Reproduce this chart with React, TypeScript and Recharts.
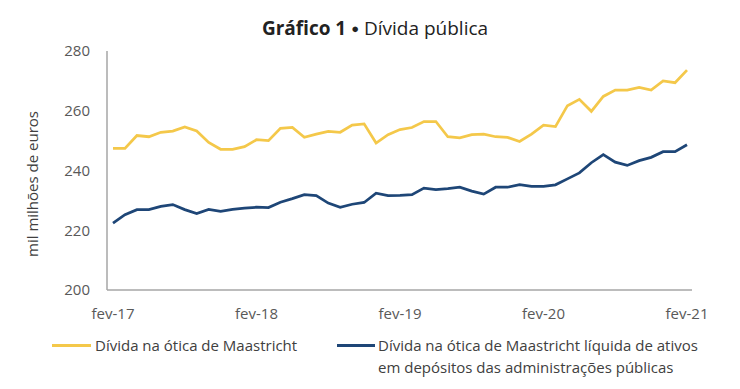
import { LineChart, Line, XAxis, YAxis } from 'recharts';

const monthNames = ['jan', 'fev', 'mar', 'abr', 'mai', 'jun', 'jul', 'ago', 'set', 'out', 'nov', 'dez'];

// fev-17 .. fev-21, monthly
const categories: string[] = [];
for (let y = 17; y <= 21; y++) {
  for (let m = 0; m < 12; m++) {
    if ((y === 17 && m < 1) || (y === 21 && m > 1)) continue;
    categories.push(`${monthNames[m]}-${y}`);
  }
}

const xTicks = ['fev-17', 'fev-18', 'fev-19', 'fev-20', 'fev-21'];
const yTicks = [200, 220, 240, 260, 280];

// mil milhões de euros
const maastricht = [
  247.4, 247.4, 251.7, 251.3, 252.8, 253.2, 254.6, 253.2, 249.4, 247.1, 247.1, 248.0,
  250.3, 250.0, 254.1, 254.4, 251.1, 252.2, 253.1, 252.8, 255.2, 255.6, 249.2, 252.0,
  253.7, 254.4, 256.4, 256.4, 251.3, 250.9, 252.0, 252.2, 251.3, 251.1, 249.7, 252.2,
  255.2, 254.7, 261.7, 263.8, 259.8, 264.8, 266.9, 266.9, 267.8, 266.9, 270.0, 269.4,
  273.6,
];

const maastrichtNet = [
  222.4, 225.2, 226.9, 226.9, 228.0, 228.6, 226.9, 225.6, 227.0, 226.3, 227.0, 227.4,
  227.7, 227.6, 229.4, 230.6, 231.9, 231.6, 229.1, 227.7, 228.7, 229.3, 232.4, 231.6,
  231.7, 231.9, 234.1, 233.6, 233.9, 234.4, 233.1, 232.1, 234.4, 234.4, 235.3, 234.7,
  234.7, 235.2, 237.2, 239.2, 242.6, 245.3, 242.8, 241.7, 243.3, 244.4, 246.3, 246.3,
  248.6,
];

const data = categories.map((c, i) => ({
  label: c,
  gross: maastricht[i],
  net: maastrichtNet[i],
}));

const YELLOW = '#F4C84A';
const BLUE = '#1E4677';
const FONT = '"Open Sans", sans-serif';
const TEXT = '#404040';

export default function App() {
  return (
    <div
      style={{
        position: 'absolute',
        left: 0,
        top: 0,
        width: 740,
        height: 389,
        background: '#fff',
        fontFamily: FONT,
      }}
    >
      <div
        style={{
          position: 'absolute',
          top: 16,
          left: 5,
          width: 740,
          textAlign: 'center',
          fontSize: 19,
          lineHeight: '24px',
          color: '#222',
        }}
      >
        <b>Gráfico 1</b> <span style={{ fontSize: 13, verticalAlign: 2 }}>●</span> Dívida pública
      </div>
      <div
        style={{
          position: 'absolute',
          left: 32 - 100,
          top: 184 - 11,
          width: 200,
          height: 22,
          lineHeight: '22px',
          textAlign: 'center',
          fontSize: 15,
          color: TEXT,
          transform: 'rotate(-90deg)',
          whiteSpace: 'nowrap',
        }}
      >
        mil milhões de euros
      </div>
      <LineChart
        width={740}
        height={389}
        data={data}
        margin={{ top: 51, right: 48, bottom: 69, left: 0 }}
      >
        <XAxis
          dataKey="label"
          ticks={xTicks}
          interval={0}
          tickLine={false}
          axisLine={{ stroke: '#a6a6a6', strokeWidth: 1.5 }}
          tick={{ fontSize: 15, fill: '#595959', fontFamily: FONT }}
          tickMargin={12}
          padding={{ left: 6, right: 5 }}
        />
        <YAxis
          domain={[200, 280]}
          ticks={yTicks}
          width={107}
          tickLine={false}
          axisLine={{ stroke: '#a6a6a6', strokeWidth: 1.5 }}
          tick={{ fontSize: 15, fill: '#595959', fontFamily: FONT }}
          tickMargin={11}
        />
        <Line
          type="linear"
          dataKey="gross"
          stroke={YELLOW}
          strokeWidth={2.75}
          dot={false}
          isAnimationActive={false}
        />
        <Line
          type="linear"
          dataKey="net"
          stroke={BLUE}
          strokeWidth={2.75}
          dot={false}
          isAnimationActive={false}
        />
      </LineChart>
      <div style={{ position: 'absolute', top: 334, left: 52, display: 'flex', alignItems: 'flex-start', fontSize: 15, color: TEXT, lineHeight: '22px', whiteSpace: 'nowrap' }}>
        <span style={{ display: 'inline-block', width: 39, height: 3, background: YELLOW, marginTop: 10, marginRight: 4 }} />
        <span>Dívida na ótica de Maastricht</span>
      </div>
      <div style={{ position: 'absolute', top: 334, left: 337, display: 'flex', alignItems: 'flex-start', fontSize: 15, color: TEXT, lineHeight: '22px', whiteSpace: 'nowrap' }}>
        <span style={{ display: 'inline-block', width: 38, height: 3, background: BLUE, marginTop: 10, marginRight: 3 }} />
        <span>
          Dívida na ótica de Maastricht líquida de ativos
          <br />
          em depósitos das administrações públicas
        </span>
      </div>
    </div>
  );
}
